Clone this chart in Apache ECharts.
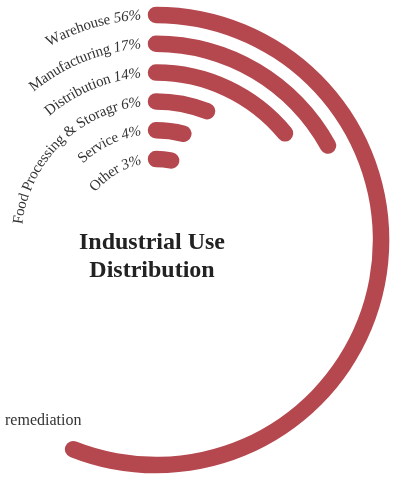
<!DOCTYPE html>
<html><head><meta charset="utf-8">
<script src="https://cdn.jsdelivr.net/npm/echarts@6/dist/echarts.min.js"></script>
<style>html,body{margin:0;padding:0;background:#fff}#c{width:393px;height:481px}</style>
</head><body><div id="c"></div>
<script>
const categories = ['Warehouse', 'Manufacturing', 'Distribution', 'Food Processing & Storagr', 'Service', 'Other'];
const values = [56, 17, 14, 6, 4, 3];
const titleLines = ['Industrial Use', 'Distribution'];
const noteText = 'remediation';

const CX = 156, CY = 240, R0 = 66.5, R1 = 239.5;
const FAMILY = '"Liberation Serif", "Times New Roman", serif';
const LABEL_SIZE = 15;
const BAR_COLOR = '#b5474f';
const TEXT_COLOR = '#333';

const chart = echarts.init(document.getElementById('c'), null, {renderer: 'canvas'});
const mctx = document.createElement('canvas').getContext('2d');

function fontStr(italic, size) {
  return (italic ? 'italic ' : '') + size + 'px ' + FAMILY;
}

function arcLabel(parts, r, gap) {
  const chars = [];
  let total = 0;
  parts.forEach(p => {
    const f = fontStr(p.italic, LABEL_SIZE);
    mctx.font = f;
    for (const ch of p.text) {
      const w = mctx.measureText(ch).width;
      chars.push({ch, w, start: total, font: f});
      total += w;
    }
  });
  return chars.filter(c => c.ch !== ' ').map(c => {
    const dist = gap + total - c.start - c.w / 2;
    const phi = -dist / r;
    return {
      type: 'text',
      x: CX + r * Math.sin(phi),
      y: CY - r * Math.cos(phi),
      rotation: -phi,
      silent: true,
      style: {
        text: c.ch, font: c.font, fill: TEXT_COLOR,
        align: 'center', verticalAlign: 'middle',
        textAlign: 'center', textVerticalAlign: 'middle'
      }
    };
  });
}

const band = (R1 - R0) / categories.length;
let labelEls = [];
categories.forEach((name, i) => {
  const r = R1 - (i + 0.5) * band;
  labelEls = labelEls.concat(arcLabel([
    {text: name + ' ', italic: false},
    {text: values[i] + '%', italic: true}
  ], r, 15));
});

labelEls.push({
  type: 'text', x: 5, y: 421, silent: true,
  style: {text: noteText, font: fontStr(false, 16), fill: TEXT_COLOR,
    align: 'left', verticalAlign: 'middle', textAlign: 'left', textVerticalAlign: 'middle'}
});

chart.setOption({
  animation: false,
  title: {
    text: titleLines.join('\n'),
    left: 147, top: 224, textAlign: 'center',
    textStyle: {fontFamily: FAMILY, fontSize: 24, fontWeight: 'bold', lineHeight: 28, color: '#222'}
  },
  polar: {center: [CX, CY], radius: [R0, R1]},
  angleAxis: {
    type: 'value', min: 0, max: 100, startAngle: 90, clockwise: true,
    axisLine: {show: false}, axisTick: {show: false}, axisLabel: {show: false}, splitLine: {show: false}
  },
  radiusAxis: {
    type: 'category', data: categories, inverse: true,
    axisLine: {show: false}, axisTick: {show: false}, axisLabel: {show: false}, splitLine: {show: false}
  },
  series: [{
    type: 'bar', coordinateSystem: 'polar', data: values,
    roundCap: true, barWidth: 16.5,
    itemStyle: {color: BAR_COLOR}
  }],
  graphic: {elements: labelEls}
});
</script>
</body></html>
